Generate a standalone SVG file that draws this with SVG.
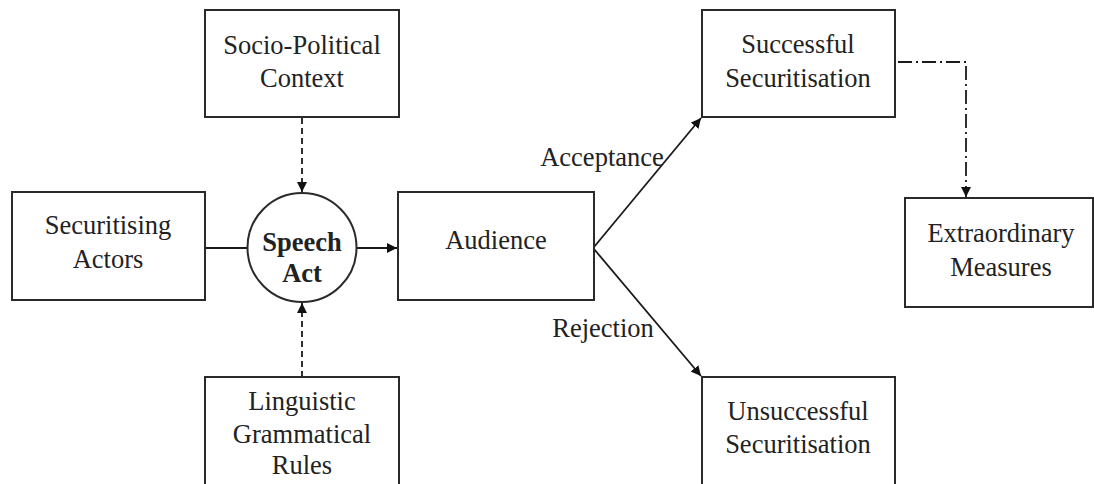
<svg xmlns="http://www.w3.org/2000/svg" width="1094" height="484" viewBox="0 0 1094 484">
<style>
.box{fill:#fff;stroke:#2a2a2a;stroke-width:2}
.t{font-family:"Liberation Serif","Times New Roman",serif;font-size:26.5px;fill:#222;text-anchor:middle}
.b{font-weight:bold}
.ln{fill:none;stroke:#1a1a1a;stroke-width:1.8}
.dash{stroke-dasharray:6,4}
.dd{stroke-dasharray:14,4,2,4}
</style>
<defs>
<marker id="ah" viewBox="0 0 10 10" refX="10" refY="5" markerWidth="10" markerHeight="10" markerUnits="userSpaceOnUse" orient="auto">
<path d="M0,0 L10,5 L0,10 z" fill="#111"/>
</marker>
</defs>
<rect width="1094" height="484" fill="#fff"/>
<g id="connectors">
<line class="ln" x1="205" y1="248" x2="247" y2="248"/>
<line class="ln" x1="356" y1="248" x2="397" y2="248" marker-end="url(#ah)"/>
<line class="ln dash" x1="302" y1="118" x2="302" y2="192" marker-end="url(#ah)"/>
<line class="ln dash" x1="302" y1="377" x2="302" y2="303" marker-end="url(#ah)"/>
<line class="ln" x1="594" y1="247" x2="701" y2="118" marker-end="url(#ah)"/>
<line class="ln" x1="594" y1="249" x2="701" y2="376" marker-end="url(#ah)"/>
<polyline class="ln dd" points="898,62 966,62 966,197" marker-end="url(#ah)"/>
<text class="t" x="602" y="166">Acceptance</text>
<text class="t" x="603" y="337">Rejection</text>
</g>
<g id="socio">
<rect class="box" x="205" y="10" width="194" height="107"/>
<text class="t" x="302" y="54">Socio-Political</text>
<text class="t" x="302" y="87">Context</text>
</g>
<g id="actors">
<rect class="box" x="12" y="192" width="193" height="108"/>
<text class="t" x="108" y="234">Securitising</text>
<text class="t" x="108" y="268">Actors</text>
</g>
<g id="speech">
<circle cx="302" cy="247.5" r="54.5" fill="#fff" stroke="#2a2a2a" stroke-width="2"/>
<text class="t b" x="302" y="251">Speech</text>
<text class="t b" x="302" y="282">Act</text>
</g>
<g id="audience">
<rect class="box" x="398" y="192" width="196" height="108"/>
<text class="t" x="496" y="249">Audience</text>
</g>
<g id="linguistic">
<rect class="box" x="205" y="377" width="194" height="115"/>
<text class="t" x="302" y="410">Linguistic</text>
<text class="t" x="302" y="443">Grammatical</text>
<text class="t" x="302" y="474">Rules</text>
</g>
<g id="successful">
<rect class="box" x="702" y="10" width="193" height="107"/>
<text class="t" x="798" y="53">Successful</text>
<text class="t" x="798" y="87">Securitisation</text>
</g>
<g id="unsuccessful">
<rect class="box" x="702" y="377" width="193" height="115"/>
<text class="t" x="798" y="420">Unsuccessful</text>
<text class="t" x="798" y="453">Securitisation</text>
</g>
<g id="extraordinary">
<rect class="box" x="905" y="198" width="188" height="109"/>
<text class="t" x="1001" y="242">Extraordinary</text>
<text class="t" x="1001" y="276">Measures</text>
</g>
</svg>
